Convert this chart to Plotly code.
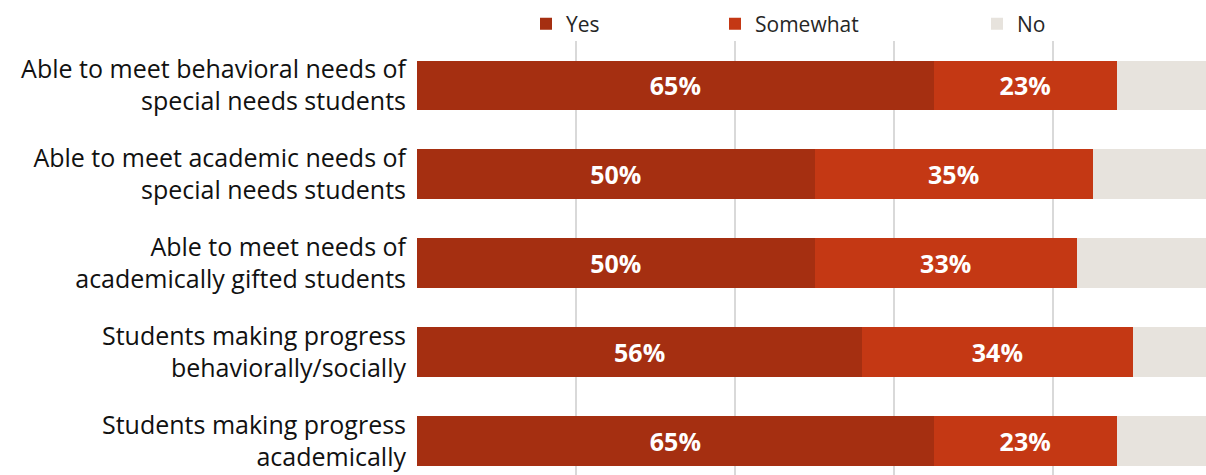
import plotly.graph_objects as go

categories = [
    "Able to meet behavioral needs of<br>special needs students",
    "Able to meet academic needs of<br>special needs students",
    "Able to meet needs of<br>academically gifted students",
    "Students making progress<br>behaviorally/socially",
    "Students making progress<br>academically",
]
yes_vals = [65, 50, 50, 56, 65]
somewhat_vals = [23, 35, 33, 34, 23]
no_vals = [12, 15, 17, 10, 12]

series_names = ["Yes", "Somewhat", "No"]
series_colors = ["#A52F11", "#C43814", "#E7E3DD"]
legend_ids = ["legend", "legend2", "legend3"]
legend_x_px = [526, 715, 977]

W, H = 1206, 475
fig = go.Figure()
for name, vals, color, lid, show_text in zip(
    series_names, [yes_vals, somewhat_vals, no_vals], series_colors, legend_ids, [True, True, False]
):
    fig.add_trace(go.Bar(
        y=categories, x=vals, name=name, orientation="h",
        marker=dict(color=color, line=dict(width=0)),
        width=0.56,
        legend=lid,
        text=[f"{v}%" for v in vals] if show_text else None,
        textposition="inside" if show_text else "none",
        insidetextanchor="middle",
        textangle=0,
        textfont=dict(family="Open Sans", size=25, color="white", weight="bold"),
        hoverinfo="skip",
    ))

plot_top = 40.5
cat_px = 89.0
y_bottom = -0.5 + (H - plot_top) / cat_px
x_right = (W - 417) / 7.95

layout_legends = {}
for lid, xp in zip(legend_ids, legend_x_px):
    layout_legends[lid] = dict(
        xref="container", yref="container",
        x=xp / W, y=1 - 24 / H, xanchor="left", yanchor="middle",
        orientation="h", bgcolor="rgba(0,0,0,0)",
        font=dict(family="Open Sans", size=21, color="#262626"),
        itemclick=False,
    )

fig.update_layout(
    width=W, height=H,
    margin=dict(l=417, r=0, t=plot_top, b=0, pad=0, autoexpand=False),
    barmode="stack",
    plot_bgcolor="white", paper_bgcolor="white",
    showlegend=True,
    font=dict(family="Open Sans", color="#111111"),
    xaxis=dict(range=[0, x_right], showticklabels=False, ticks="",
               tickvals=[0, 20, 40, 60, 80, 100],
               showgrid=True, gridcolor="#D9D9D9", gridwidth=2,
               zeroline=False, showline=False),
    yaxis=dict(range=[y_bottom, -0.5], ticks="", showgrid=False, zeroline=False,
               showline=False, ticklabelstandoff=10,
               tickfont=dict(family="Open Sans", size=25, color="#111111")),
    uniformtext=dict(mode=False),
    **layout_legends,
)

fig.write_html(
    "out.html",
    config={"displayModeBar": False},
    post_script="document.body.style.margin='0';document.body.style.overflow='hidden';",
)
